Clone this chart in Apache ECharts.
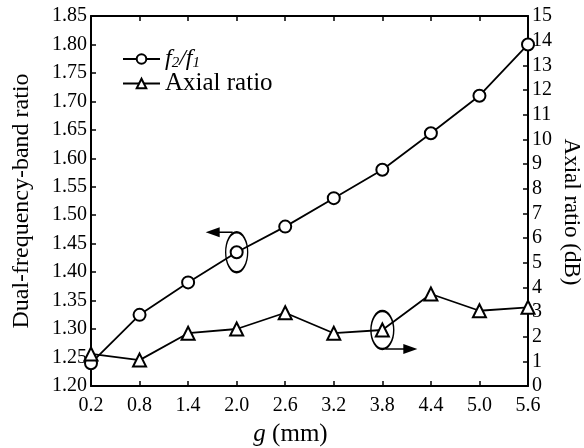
<!DOCTYPE html>
<html>
<head>
<meta charset="utf-8">
<script src="https://cdn.jsdelivr.net/npm/echarts@6/dist/echarts.min.js"></script>
<style>
  html, body { margin: 0; padding: 0; background: #fff; }
  #chart { width: 584px; height: 448px; }
</style>
</head>
<body>
<div id="chart"></div>
<script>
// data
var gValues = ['0.2', '0.8', '1.4', '2.0', '2.6', '3.2', '3.8', '4.4', '5.0', '5.6'];
var ratioData = [1.24, 1.325, 1.382, 1.435, 1.48, 1.53, 1.58, 1.644, 1.71, 1.80];
var axialData = [1.3, 1.05, 2.14, 2.31, 2.97, 2.14, 2.27, 3.73, 3.05, 3.19];

var FONT = '"Liberation Serif", "Times New Roman", serif';

window.onload = function() {
    drawChart();
}

function drawChart() {
    var chart = echarts.init(document.getElementById('chart'));

    var axisLine = { show: true, lineStyle: { color: '#000', width: 2 } };
    var tick = { show: true, inside: true, length: 5, lineStyle: { color: '#000', width: 1.5 } };
    var label = { color: '#000', fontFamily: FONT, fontSize: 20 };

    var option = {
        animation: false,
        grid: { left: 91, top: 16, right: 56, bottom: 62, containLabel: false, outerBoundsMode: 'none' },
        legend: {
            left: 117, top: 42, orient: 'vertical', itemGap: 0,
            itemWidth: 37, itemHeight: 12,
            textStyle: {
                color: '#000', fontFamily: FONT, fontSize: 25,
                rich: {
                    i: { fontStyle: 'italic', fontFamily: FONT, fontSize: 24, color: '#000' },
                    s: { fontStyle: 'italic', fontFamily: FONT, fontSize: 15, color: '#000', padding: [9, 0, 0, 0] }
                }
            },
            formatter: function(name) {
                if (name === 'f2/f1') return '{i|f}{s|2}{i|/f}{s|1}';
                return name;
            },
            data: ['f2/f1', 'Axial ratio']
        },
        xAxis: [{
            type: 'category', data: gValues, boundaryGap: false,
            axisLine: axisLine, axisTick: tick,
            axisLabel: Object.assign({ margin: 10 }, label),
            name: '{i|g} (mm)', nameLocation: 'middle', nameGap: 36,
            nameTextStyle: {
                color: '#000', fontFamily: FONT, fontSize: 25, padding: [0, 38, 0, 0],
                rich: { i: { fontStyle: 'italic', fontFamily: FONT, fontSize: 25, color: '#000' } }
            },
            splitLine: { show: false }
        }, {
            type: 'category', data: gValues, boundaryGap: false, position: 'top',
            axisLine: axisLine, axisTick: tick, axisLabel: { show: false },
            splitLine: { show: false }
        }],
        yAxis: [{
            type: 'value', min: 1.2, max: 1.85, interval: 0.05, position: 'left',
            axisLine: axisLine, axisTick: tick,
            axisLabel: Object.assign({ margin: 4, formatter: function(v) { return v.toFixed(2); } }, label),
            name: 'Dual-frequency-band ratio', nameLocation: 'middle', nameGap: 57,
            nameTextStyle: { color: '#000', fontFamily: FONT, fontSize: 24 },
            splitLine: { show: false }
        }, {
            type: 'value', min: 0, max: 15, interval: 1, position: 'right',
            axisLine: axisLine, axisTick: tick,
            axisLabel: Object.assign({ margin: 4 }, label),
            name: 'Axial ratio (dB)', nameLocation: 'middle', nameGap: 32, nameRotate: -90,
            nameMoveOverlap: false,
            nameTextStyle: { color: '#000', fontFamily: FONT, fontSize: 23, padding: [0, 0, 0, 22] },
            splitLine: { show: false }
        }],
        series: [{
            name: 'f2/f1', type: 'line', data: ratioData,
            xAxisIndex: 0, yAxisIndex: 0,
            symbol: 'emptyCircle', symbolSize: 12,
            lineStyle: { color: '#000', width: 1.8 },
            itemStyle: { color: '#000', borderWidth: 1.8 }
        }, {
            name: 'Axial ratio', type: 'line', data: axialData,
            xAxisIndex: 0, yAxisIndex: 1,
            symbol: 'emptyTriangle', symbolSize: 13,
            lineStyle: { color: '#000', width: 1.8 },
            itemStyle: { color: '#000', borderWidth: 1.8 }
        }]
    };

    chart.setOption(option);

    // annotation ellipses and arrows, placed relative to data points
    var p1 = chart.convertToPixel({ xAxisIndex: 0, yAxisIndex: 0 }, [3, ratioData[3]]);
    var p2 = chart.convertToPixel({ xAxisIndex: 0, yAxisIndex: 1 }, [6, axialData[6]]);
    var ls = { stroke: '#000', lineWidth: 1.5, fill: null };

    chart.setOption({
        graphic: [
            { type: 'circle', x: p1[0], y: p1[1], scaleX: 0.55, shape: { cx: 0, cy: 0, r: 20 },
              style: { stroke: '#000', lineWidth: 2.4, fill: null } },
            { type: 'polyline', shape: { points: [[p1[0] - 4, p1[1] - 20], [p1[0] - 18, p1[1] - 20]] }, style: ls },
            { type: 'polygon', shape: { points: [[p1[0] - 31, p1[1] - 20], [p1[0] - 17, p1[1] - 25], [p1[0] - 17, p1[1] - 15]] },
              style: { fill: '#000' } },
            { type: 'circle', x: p2[0], y: p2[1], scaleX: 0.6, shape: { cx: 0, cy: 0, r: 19 },
              style: { stroke: '#000', lineWidth: 2.4, fill: null } },
            { type: 'polyline', shape: { points: [[p2[0] + 3, p2[1] + 19], [p2[0] + 22, p2[1] + 19]] }, style: ls },
            { type: 'polygon', shape: { points: [[p2[0] + 35, p2[1] + 19], [p2[0] + 21, p2[1] + 14], [p2[0] + 21, p2[1] + 24]] },
              style: { fill: '#000' } }
        ]
    });
}
</script>
</body>
</html>
